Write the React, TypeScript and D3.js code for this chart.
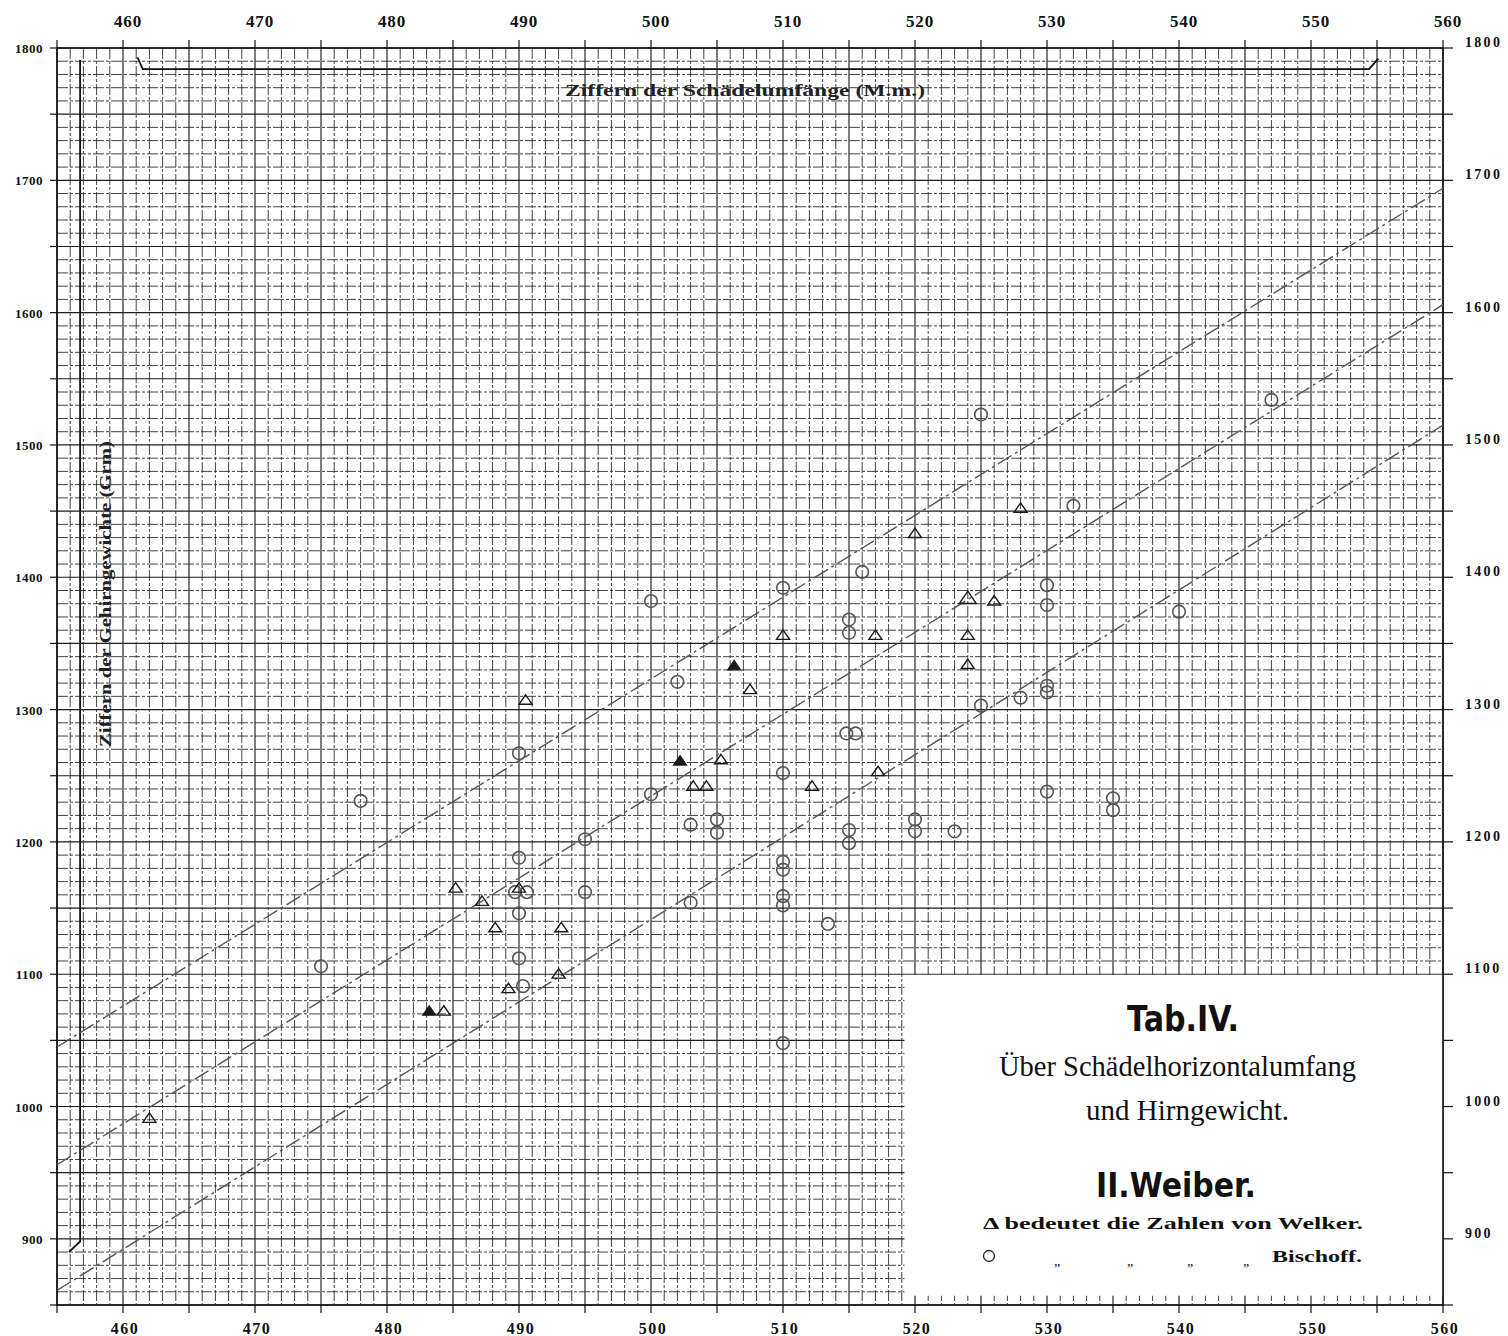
import React from "react";
import * as d3 from "d3";

// ---- data ----
const xDomain = [455, 560];
const yDomain = [850, 1800];
const xTickLabels = [460, 470, 480, 490, 500, 510, 520, 530, 540, 550, 560];
const yTickLabels = [900, 1000, 1100, 1200, 1300, 1400, 1500, 1600, 1700, 1800];

// Welker (triangles)
const welkerX = [462, 528, 520, 524, 526, 524, 517, 510, 524, 507.5, 490.5, 505.3, 503.2, 504.2, 512.2, 517.2, 485.2, 487.2, 490, 488.2, 493.2, 484.3, 489.2, 493];
const welkerY = [991, 1452, 1433, 1384, 1382, 1356, 1356, 1356, 1334, 1315, 1307, 1262, 1242, 1242, 1242, 1253, 1165, 1155, 1165, 1135, 1135, 1072, 1089, 1100];
const welkerFilledX = [506.3, 502.2, 483.2];
const welkerFilledY = [1333, 1261, 1072];

// Bischoff (circles)
const bischoffX = [525, 547, 532, 516, 510, 500, 515, 515, 530, 530, 540, 502, 528, 525, 530, 530, 514.8, 515.5, 490, 510, 500, 530, 535, 535, 503, 505, 505, 520, 520, 523, 515, 515, 495, 490, 510, 510, 489.7, 490.6, 495, 490, 503, 510, 510, 513.4, 490, 475, 490.3, 478, 510];
const bischoffY = [1523, 1534, 1454, 1404, 1392, 1382, 1368, 1358, 1394, 1379, 1374, 1321, 1309, 1303, 1318, 1313, 1282, 1282, 1267, 1252, 1236, 1238, 1233, 1224, 1213, 1217, 1207, 1217, 1208, 1208, 1209, 1199, 1202, 1188, 1185, 1179, 1162, 1162, 1162, 1146, 1154, 1159, 1152, 1138, 1112, 1106, 1091, 1231, 1048];

// dashed guide lines (value at x = 455 and x = 560)
const guideX = [455, 560];
const guideUpper = [1045, 1694];
const guideMiddle = [956, 1606];
const guideLower = [861, 1515];

const W = 1508;
const H = 1336;

export default function App() {
  const x = d3.scaleLinear().domain(xDomain).range([57, 1443]);
  const y = d3.scaleLinear().domain(yDomain).range([1305, 48]);

  const vLines = d3.range(xDomain[0], xDomain[1] + 1, 1);
  const hLines = d3.range(yDomain[0], yDomain[1] + 1, 10);
  const line = d3.line<[number, number]>().x((d) => x(d[0])).y((d) => y(d[1]));

  const guides = [guideUpper, guideMiddle, guideLower].map((g) =>
    line(guideX.map((gx, i) => [gx, g[i]] as [number, number]))
  );

  const tri = (cx: number, cy: number, s: number) =>
    `M${cx},${cy - s * 0.85} L${cx + s},${cy + s * 0.6} L${cx - s},${cy + s * 0.6} Z`;

  const serif = "'Liberation Serif', 'DejaVu Serif', serif";
  const left = x(xDomain[0]);
  const right = x(xDomain[1]);
  const top = y(yDomain[1]);
  const bottom = y(yDomain[0]);

  // legend box
  const boxX0 = x(519.2);
  const boxY0 = y(1099.5);
  const boxY1 = y(857);

  return (
    <svg
      width={W}
      height={H}
      viewBox={`0 0 ${W} ${H}`}
      style={{ position: "absolute", left: 0, top: 0, background: "#fff" }}
    >
      <rect x={0} y={0} width={W} height={H} fill="#fff" />
      {/* grid */}
      <g>
        {vLines.map((v) => {
          const major = v % 5 === 0;
          return (
            <line
              key={"v" + v}
              x1={x(v)}
              x2={x(v)}
              y1={top}
              y2={bottom}
              stroke={major ? "#1e1e1e" : "#2e2e2e"}
              strokeWidth={major ? 1.15 : 0.9}
              strokeDasharray={major ? undefined : "11 2 3 2"}
            />
          );
        })}
        {hLines.map((v) => {
          const major = v % 50 === 0;
          return (
            <line
              key={"h" + v}
              x1={left}
              x2={right}
              y1={y(v)}
              y2={y(v)}
              stroke={major ? "#1e1e1e" : "#2e2e2e"}
              strokeWidth={major ? 1.15 : 0.9}
              strokeDasharray={major ? undefined : "11 2 3 2"}
            />
          );
        })}
      </g>

      {/* legend box background */}
      <rect x={boxX0} y={boxY0} width={right - boxX0} height={boxY1 - boxY0} fill="#fff" />

      {/* frame */}
      <rect x={left} y={top} width={right - left} height={bottom - top} fill="none" stroke="#111" strokeWidth={1.6} />

      {/* ticks */}
      {d3.range(455, 561, 5).map((v) => (
        <g key={"xt" + v}>
          <line x1={x(v)} x2={x(v)} y1={top - 8} y2={top} stroke="#111" strokeWidth={1.2} />
          <line x1={x(v)} x2={x(v)} y1={bottom} y2={bottom + 8} stroke="#111" strokeWidth={1.2} />
        </g>
      ))}
      {d3.range(850, 1801, 50).map((v) => (
        <g key={"yt" + v}>
          <line x1={left - 7} x2={left} y1={y(v)} y2={y(v)} stroke="#111" strokeWidth={1.2} />
          <line x1={right} x2={right + 10} y1={y(v)} y2={y(v)} stroke="#111" strokeWidth={1.2} />
        </g>
      ))}

      {/* inner bracket lines */}
      <path
        d={`M${x(461.1)},${y(1793)} L${x(461.5)},${y(1784)} L${x(554.4)},${y(1784)} L${x(555.1)},${y(1792)}`}
        fill="none"
        stroke="#111"
        strokeWidth={1.8}
      />
      <path
        d={`M${x(456.75)},${y(1791)} L${x(456.75)},${y(898)} L${x(455.9)},${y(890)}`}
        fill="none"
        stroke="#111"
        strokeWidth={1.8}
      />

      {/* guide lines */}
      {guides.map((d, i) => (
        <path key={"g" + i} d={d || ""} fill="none" stroke="#555" strokeWidth={1.4} strokeDasharray="16 4 3 4" />
      ))}

      {/* Bischoff circles */}
      {bischoffX.map((bx, i) => (
        <circle key={"b" + i} cx={x(bx)} cy={y(bischoffY[i])} r={6.3} fill="none" stroke="#555" strokeWidth={1.6} />
      ))}

      {/* Welker triangles */}
      {welkerX.map((wx, i) => (
        <path
          key={"w" + i}
          d={tri(x(wx), y(welkerY[i]), i === 3 ? 8.5 : 6.5)}
          fill="none"
          stroke="#1a1a1a"
          strokeWidth={1.4}
        />
      ))}
      {welkerFilledX.map((wx, i) => (
        <path key={"wf" + i} d={tri(x(wx), y(welkerFilledY[i]), 6.5)} fill="#1a1a1a" stroke="#1a1a1a" strokeWidth={1.2} />
      ))}

      {/* tick labels */}
      <g fontFamily={serif} fontWeight="bold" fill="#111">
        {xTickLabels.map((v) => (
          <text key={"tx" + v} x={x(v) + 5} y={27} fontSize={17} textAnchor="middle" letterSpacing={0.8}>
            {v}
          </text>
        ))}
        {xTickLabels.map((v) => (
          <text key={"bx" + v} x={x(v) + 2} y={1334} fontSize={16} textAnchor="middle" letterSpacing={1.5}>
            {v}
          </text>
        ))}
        {yTickLabels.map((v) => (
          <text key={"ly" + v} x={43} y={y(v) + 5} fontSize={13} textAnchor="end" letterSpacing={0.5}>
            {v}
          </text>
        ))}
        {yTickLabels.map((v) => (
          <text key={"ry" + v} x={1465} y={y(v) - 1} fontSize={14} textAnchor="start" letterSpacing={2.3}>
            {v}
          </text>
        ))}
      </g>

      {/* axis titles */}
      <text x={565} y={96} fontFamily={serif} fontWeight="bold" fontSize={16} fill="#222" textLength={360} lengthAdjust="spacingAndGlyphs">
        Ziffern der Schädelumfänge (M.m.)
      </text>
      <text
        transform="translate(111,747) rotate(-90)"
        fontFamily={serif}
        fontWeight="bold"
        fontSize={17}
        fill="#222"
        textLength={306}
        lengthAdjust="spacingAndGlyphs"
      >
        Ziffern der Gehirngewichte (Grm)
      </text>

      {/* legend */}
      <g fill="#111">
        <text x={1127} y={1031} fontFamily="'DejaVu Sans', sans-serif" fontWeight="bold" fontSize={36} textLength={112} lengthAdjust="spacingAndGlyphs">
          Tab.IV.
        </text>
        <text x={999} y={1076} fontFamily={serif} fontSize={29} textLength={357} lengthAdjust="spacingAndGlyphs">
          Über Schädelhorizontalumfang
        </text>
        <text x={1086} y={1120} fontFamily={serif} fontSize={29} textLength={203} lengthAdjust="spacingAndGlyphs">
          und Hirngewicht.
        </text>
        <text x={1096} y={1197} fontFamily="'DejaVu Sans', sans-serif" fontWeight="bold" fontSize={33} textLength={160} lengthAdjust="spacingAndGlyphs">
          II.Weiber.
        </text>
        <text x={983} y={1229} fontFamily={serif} fontWeight="bold" fontSize={17} textLength={380} lengthAdjust="spacingAndGlyphs">
          Δ  bedeutet die Zahlen von Welker.
        </text>
        <circle cx={989} cy={1256} r={5.5} fill="none" stroke="#222" strokeWidth={1.3} />
        {[1057, 1130, 1190, 1246].map((qx) => (
          <text key={"q" + qx} x={qx} y={1266} fontFamily={serif} fontSize={14} textAnchor="middle">
            „
          </text>
        ))}
        <text x={1272} y={1262} fontFamily={serif} fontWeight="bold" fontSize={17} textLength={90} lengthAdjust="spacingAndGlyphs">
          Bischoff.
        </text>
      </g>
    </svg>
  );
}
